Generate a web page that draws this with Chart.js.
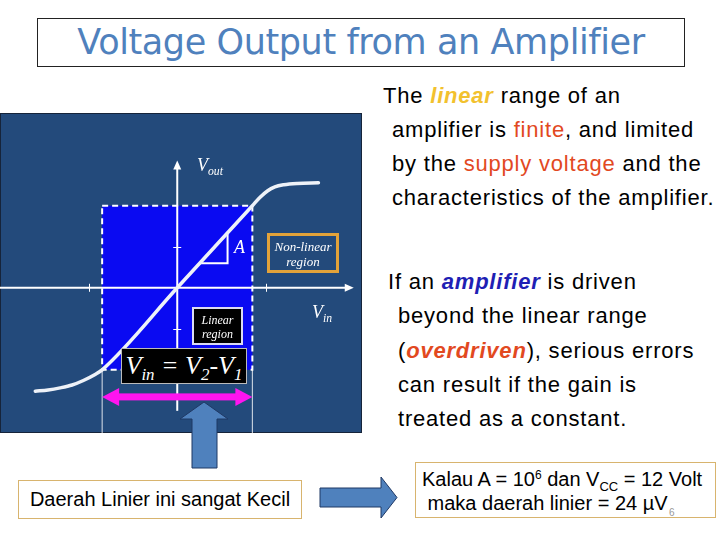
<!DOCTYPE html>
<html>
<head>
<meta charset="utf-8">
<script src="https://cdn.jsdelivr.net/npm/chart.js@4"></script>
<style>
  html, body { margin: 0; padding: 0; background: #fff; }
  body { width: 720px; height: 540px; position: relative; overflow: hidden; font-family: "Liberation Sans", Arial, sans-serif; }
  .abs { position: absolute; }
  #title {
    left: 37px; top: 18px; width: 646px; height: 47px; border: 1px solid #222;
    text-align: center; line-height: 46px; font-family: "DejaVu Sans", sans-serif;
    font-size: 35px; color: #4f81bd; letter-spacing: -0.4px;
  }
  #chartBox { left: 0; top: 113px; width: 362px; height: 320px; }
  .para { font-size: 22px; letter-spacing: 0.8px; line-height: 34px; color: #000; white-space: nowrap; }
  .serif { font-family: "Liberation Serif", "Times New Roman", serif; font-style: italic; color: #fff; }
  .box { box-sizing: border-box; text-align: center; }
  .tan { border: 1px solid #d8b46e; background: #fff; box-sizing: border-box; }
  sub { font-size: 0.65em; vertical-align: -0.35em; line-height: 0; }
  sup { font-size: 0.6em; vertical-align: 0.55em; line-height: 0; }
</style>
</head>
<body>
<div id="title" class="abs">Voltage Output from an Amplifier</div>

<div id="chartBox" class="abs"><canvas id="ampChart"></canvas></div>

<!-- labels on the transfer curve panel -->
<div class="abs serif" style="left:197px; top:155px; font-size:18px;">V<sub>out</sub></div>
<div class="abs serif" style="left:234px; top:237px; font-size:18px;">A</div>
<div class="abs serif box" style="left:267px; top:233px; width:72px; height:40px; border:3px solid #e3a33a; font-size:13px; line-height:15px; padding-top:3px;">Non-linear<br>region</div>
<div class="abs serif" style="left:312px; top:302px; font-size:18px;">V<sub>in</sub></div>
<div class="abs serif box" style="left:192px; top:307px; width:51px; height:38px; background:#000; border:2px solid #dcdcf2; font-size:12px; line-height:14px; padding-top:4px;">Linear<br>region</div>
<div class="abs serif box" style="left:121px; top:348px; width:126px; height:36px; background:#000; border:1px solid #bbb; font-size:26px; line-height:33px;">V<sub>in</sub> = V<sub>2</sub>-V<sub>1</sub></div>

<!-- right-hand text -->
<div class="abs para" style="left:392px; top:79px; text-indent:-9px;">
The <b><i style="color:#f2c12e;">linear</i></b> range of an<br>
amplifier is <span style="color:#e2491f;">finite</span>, and limited<br>
by the <span style="color:#e2491f;">supply voltage</span> and the<br>
characteristics of the amplifier.
</div>
<div class="abs para" style="left:398px; top:265px; text-indent:-10px; line-height:34.3px;">
If an <b><i style="color:#1f1fb4;">amplifier</i></b> is driven<br>
beyond the linear range<br>
(<b><i style="color:#e2491f;">overdriven</i></b>), serious errors<br>
can result if the gain is<br>
treated as a constant.
</div>

<!-- bottom boxes -->
<div class="abs tan" style="left:18px; top:480px; width:284px; height:39px; text-align:center; font-size:20px; line-height:37px;">Daerah Linier ini sangat Kecil</div>
<div class="abs tan" style="left:415px; top:462px; width:301px; height:56px; font-size:20px; line-height:24px; padding:4px 0 0 6px; white-space:nowrap;">
Kalau A = 10<sup>6</sup> dan V<sub>CC</sub> = 12 Volt<br>&nbsp;maka daerah linier = 24 µV
</div>
<div class="abs" style="left:669px; top:507px; font-size:10px; color:#999;">6</div>

<svg class="abs" style="left:0; top:0; pointer-events:none;" width="720" height="540">
  <path d="M204,402 L228,419 L217,419 L217,468 L192,468 L192,419 L180,419 Z" fill="#4f81bd" stroke="#1f3864" stroke-width="1"/>
  <path d="M320,488 L381,488 L381,477 L397,497.5 L381,518 L381,507 L320,507 Z" fill="#4f81bd" stroke="#1f3864" stroke-width="1"/>
</svg>

<script>
// transfer characteristic Vout vs Vin (linear region normalised to +-1)
const curveX = [-1.89, -1.72, -1.56, -1.4, -1.25, -1.1, -1.0, 0, 1.0, 1.1, 1.2, 1.3, 1.42, 1.6, 1.88];
const curveY = [-1.26, -1.245, -1.22, -1.185, -1.13, -1.06, -1.0, 0, 1.0, 1.1, 1.18, 1.23, 1.256, 1.272, 1.28];

const linearX = [-1, 1];
const linearY = [-1, 1];
const xTicks = [-1.18, 1.18];
const yTicks = [-0.5, 0.5];
const slopeX = [0.3, 0.67];
const slopeY = [0.3, 0.67];

const xRange = [-2.36, 2.46];
const yRange = [-1.77, 2.13];
const xAxisEnd = 2.35;
const yAxisTop = 1.55;
const yAxisBottom = -1.5;
const spanArrowY = -1.33;

const panelPlugin = {
  id: 'panel',
  beforeDatasetsDraw(chart) {
    const { ctx, chartArea: a, scales: { x, y } } = chart;
    ctx.save();
    ctx.fillStyle = '#234a7b';
    ctx.fillRect(a.left, a.top, a.right - a.left, a.bottom - a.top);
    ctx.strokeStyle = '#16243a';
    ctx.lineWidth = 1;
    ctx.strokeRect(a.left + 0.5, a.top + 0.5, a.right - a.left - 1, a.bottom - a.top - 1);

    const rx0 = x.getPixelForValue(linearX[0]), rx1 = x.getPixelForValue(linearX[1]);
    const ry0 = y.getPixelForValue(linearY[1]), ry1 = y.getPixelForValue(linearY[0]);
    ctx.fillStyle = '#0a0af2';
    ctx.fillRect(rx0, ry0, rx1 - rx0, ry1 - ry0);

    // thin guides from the edges of the linear region
    ctx.strokeStyle = 'rgba(255,255,255,0.85)';
    ctx.lineWidth = 1;
    [rx0, rx1].forEach(px => {
      ctx.beginPath();
      ctx.moveTo(px, ry1);
      ctx.lineTo(px, a.bottom);
      ctx.stroke();
    });

    // axes
    const ox = x.getPixelForValue(0), oy = y.getPixelForValue(0);
    ctx.strokeStyle = '#fff';
    ctx.fillStyle = '#fff';
    ctx.lineWidth = 2;
    const hx = x.getPixelForValue(xAxisEnd);
    ctx.beginPath(); ctx.moveTo(a.left, oy); ctx.lineTo(hx - 6, oy); ctx.stroke();
    ctx.beginPath(); ctx.moveTo(hx, oy); ctx.lineTo(hx - 9, oy - 4); ctx.lineTo(hx - 9, oy + 4); ctx.closePath(); ctx.fill();
    const vt = y.getPixelForValue(yAxisTop), vb = y.getPixelForValue(yAxisBottom);
    ctx.beginPath(); ctx.moveTo(ox, vb); ctx.lineTo(ox, vt + 6); ctx.stroke();
    ctx.beginPath(); ctx.moveTo(ox, vt); ctx.lineTo(ox - 4, vt + 9); ctx.lineTo(ox + 4, vt + 9); ctx.closePath(); ctx.fill();

    ctx.lineWidth = 1;
    xTicks.forEach(v => {
      const px = Math.round(x.getPixelForValue(v)) + 0.5;
      ctx.beginPath(); ctx.moveTo(px, oy - 4); ctx.lineTo(px, oy + 4); ctx.stroke();
    });
    yTicks.forEach(v => {
      const py = Math.round(y.getPixelForValue(v)) + 0.5;
      ctx.beginPath(); ctx.moveTo(ox - 4, py); ctx.lineTo(ox + 4, py); ctx.stroke();
    });

    // dashed border of linear region
    ctx.setLineDash([6, 4]);
    ctx.lineWidth = 2;
    ctx.strokeRect(rx0, ry0, rx1 - rx0, ry1 - ry0);
    ctx.setLineDash([]);

    // gain triangle
    ctx.lineWidth = 2;
    ctx.beginPath();
    ctx.moveTo(x.getPixelForValue(slopeX[0]), y.getPixelForValue(slopeY[0]));
    ctx.lineTo(x.getPixelForValue(slopeX[1]), y.getPixelForValue(slopeY[0]));
    ctx.lineTo(x.getPixelForValue(slopeX[1]), y.getPixelForValue(slopeY[1]));
    ctx.stroke();
    ctx.restore();
  },
  afterDatasetsDraw(chart) {
    const { ctx, scales: { x, y } } = chart;
    const x0 = x.getPixelForValue(linearX[0]), x1 = x.getPixelForValue(linearX[1]);
    const py = y.getPixelForValue(spanArrowY);
    ctx.save();
    ctx.fillStyle = '#ff14f0';
    ctx.fillRect(x0 + 15, py - 3.5, x1 - x0 - 30, 7);
    ctx.beginPath(); ctx.moveTo(x0, py); ctx.lineTo(x0 + 17, py - 9); ctx.lineTo(x0 + 17, py + 9); ctx.closePath(); ctx.fill();
    ctx.beginPath(); ctx.moveTo(x1, py); ctx.lineTo(x1 - 17, py - 9); ctx.lineTo(x1 - 17, py + 9); ctx.closePath(); ctx.fill();
    ctx.restore();
  }
};

new Chart(document.getElementById('ampChart'), {
  type: 'scatter',
  data: {
    datasets: [{
      data: curveX.map((v, i) => ({ x: v, y: curveY[i] })),
      showLine: true,
      borderColor: '#eef2f8',
      borderWidth: 3.5,
      pointRadius: 0,
      cubicInterpolationMode: 'monotone',
      borderCapStyle: 'round'
    }]
  },
  options: {
    responsive: true,
    maintainAspectRatio: false,
    animation: false,
    layout: { padding: 0 },
    plugins: { legend: { display: false }, tooltip: { enabled: false } },
    scales: {
      x: { type: 'linear', min: xRange[0], max: xRange[1], display: false },
      y: { type: 'linear', min: yRange[0], max: yRange[1], display: false }
    }
  },
  plugins: [panelPlugin]
});
</script>
</body>
</html>
